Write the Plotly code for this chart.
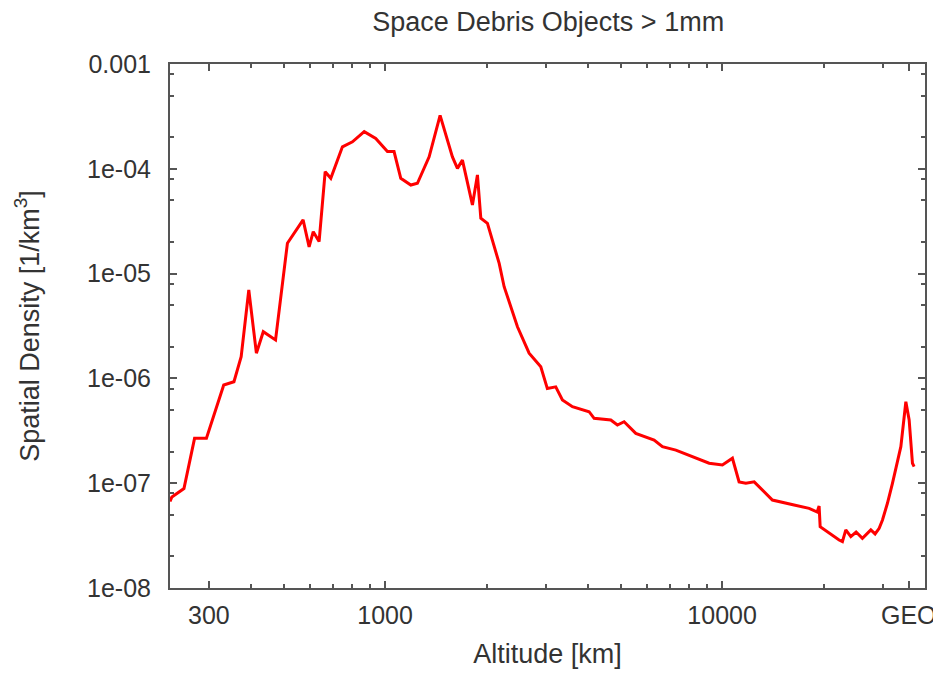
import plotly.graph_objects as go

# Altitude [km] and spatial density [1/km^3]
altitude = [230, 233, 253, 272, 295, 332, 356, 374, 394, 415, 435, 473, 513, 571, 595, 612,
            637, 664, 690, 747, 800, 867, 938, 1016, 1063, 1113, 1192, 1247, 1351, 1456,
            1584, 1639, 1696, 1816, 1879, 1923, 2012, 2180, 2255, 2470, 2675, 2897, 3030,
            3209, 3358, 3596, 4030, 4171, 4674, 4890, 5119, 5545, 6284, 6650, 7289, 8356,
            9152, 10020, 10730, 11230, 11760, 12450, 14100, 16350, 18120, 19140, 19400,
            19540, 20770, 22240, 22750, 23280, 24090, 24980, 26080, 27620, 28440, 29240,
            29910, 30940, 32020, 33130, 33910, 35090, 35890, 36710, 37130]
density = [6.7e-8, 7.4e-8, 8.9e-8, 2.68e-7, 2.68e-7, 8.65e-7, 9.3e-7, 1.61e-6, 6.97e-6,
           1.74e-6, 2.79e-6, 2.33e-6, 1.95e-5, 3.25e-5, 1.8e-5, 2.51e-5, 2.02e-5, 9.38e-5,
           8.11e-5, 1.62e-4, 1.81e-4, 2.26e-4, 1.95e-4, 1.46e-4, 1.46e-4, 8.11e-5, 7.0e-5,
           7.27e-5, 1.3e-4, 3.23e-4, 1.3e-4, 1.01e-4, 1.21e-4, 4.52e-5, 8.73e-5, 3.37e-5,
           3.02e-5, 1.25e-5, 7.5e-6, 3.11e-6, 1.74e-6, 1.29e-6, 8.0e-7, 8.3e-7, 6.22e-7,
           5.37e-7, 4.81e-7, 4.16e-7, 4.01e-7, 3.59e-7, 3.86e-7, 2.99e-7, 2.58e-7, 2.23e-7,
           2.07e-7, 1.73e-7, 1.55e-7, 1.49e-7, 1.73e-7, 1.03e-7, 9.98e-8, 1.03e-7, 6.91e-8,
           6.19e-8, 5.76e-8, 5.31e-8, 6.06e-8, 3.85e-8, 3.33e-8, 2.87e-8, 2.77e-8, 3.58e-8,
           3.09e-8, 3.42e-8, 2.98e-8, 3.58e-8, 3.28e-8, 3.71e-8, 4.46e-8, 6.43e-8, 9.98e-8,
           1.66e-7, 2.23e-7, 5.99e-7, 4.01e-7, 1.55e-7, 1.44e-7]

x_tickvals = [300, 1000, 10000, 35786]
x_ticktext = ["300", "1000", "10000", "GEO"]
x_minor = [400, 500, 600, 700, 800, 900, 2000, 3000, 4000, 5000, 6000, 7000, 8000, 9000,
           20000, 30000]
y_tickvals = [1e-3, 1e-4, 1e-5, 1e-6, 1e-7, 1e-8]
y_ticktext = ["0.001", "1e-04", "1e-05", "1e-06", "1e-07", "1e-08"]
y_minor = [m * d for d in [1e-8, 1e-7, 1e-6, 1e-5, 1e-4] for m in (2, 5, 8)]

title_text = "Space Debris Objects > 1mm"
x_title = "Altitude [km]"
y_title = "Spatial Density [1/km<sup>3</sup>]"

FONT = "Liberation Sans, Arial, sans-serif"
TXT = "#333333"
AX = "#555555"

fig = go.Figure(go.Scatter(x=altitude, y=density, mode="lines",
                           line=dict(color="#ff0000", width=3), showlegend=False))

axis_common = dict(showgrid=False, zeroline=False, showline=True, linecolor=AX, linewidth=2,
                   mirror="allticks", ticks="inside", ticklen=7, tickwidth=1.5, tickcolor=AX,
                   tickfont=dict(family=FONT, size=25, color=TXT))

fig.update_xaxes(type="log", range=[2.3617, 4.602], tickmode="array",
                 tickvals=x_tickvals, ticktext=x_ticktext, ticklabelstandoff=4,
                 minor=dict(tickvals=x_minor, ticks="inside", ticklen=4, tickwidth=1.5,
                            tickcolor=AX),
                 title=dict(text=x_title, font=dict(family=FONT, size=27, color=TXT),
                            standoff=16),
                 **axis_common)
fig.update_yaxes(type="log", range=[-8, -3], tickmode="array",
                 tickvals=y_tickvals, ticktext=y_ticktext, ticklabelstandoff=12,
                 minor=dict(tickvals=y_minor, ticks="inside", ticklen=4, tickwidth=1.5,
                            tickcolor=AX),
                 title=dict(text=y_title, font=dict(family=FONT, size=27, color=TXT),
                            standoff=40),
                 **axis_common)

# page body adds an 8px offset; size and margins compensate so the plot lands where intended
fig.update_layout(
    width=933, height=665,
    margin=dict(l=162, r=16, t=56, b=85, autoexpand=False),
    paper_bgcolor="white", plot_bgcolor="white",
    title=dict(text=title_text, x=0.579, xanchor="center", y=1 - 14 / 665, yanchor="middle",
               yref="container", font=dict(family=FONT, size=27, color=TXT)),
)

fig.write_html("out.html")
